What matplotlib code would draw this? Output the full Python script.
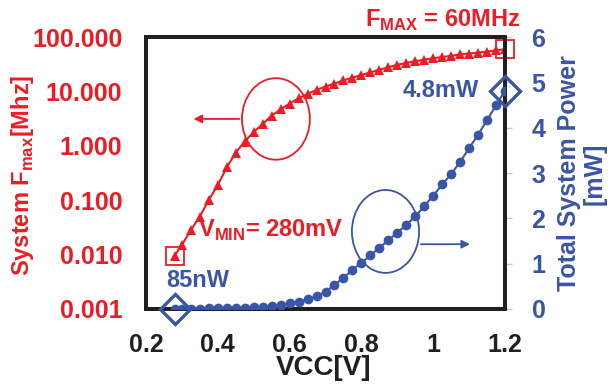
import matplotlib
matplotlib.use("Agg")
import matplotlib.pyplot as plt
from matplotlib.patches import Ellipse
from matplotlib.ticker import FixedLocator, FixedFormatter, NullLocator

RED = "#ED1C24"
BLUE = "#3A55A5"

plt.rcParams["font.family"] = ["Liberation Sans", "DejaVu Sans"]
plt.rcParams["mathtext.fontset"] = "custom"
plt.rcParams["mathtext.rm"] = "Liberation Sans"
plt.rcParams["mathtext.bf"] = "Liberation Sans:bold"

vcc = [0.28, 0.3, 0.325, 0.35, 0.375, 0.4, 0.425, 0.45, 0.475, 0.5,
       0.525, 0.55, 0.575, 0.6, 0.625, 0.65, 0.675, 0.7, 0.725, 0.75,
       0.775, 0.8, 0.825, 0.85, 0.875, 0.9, 0.925, 0.95, 0.975, 1.0,
       1.025, 1.05, 1.075, 1.1, 1.125, 1.15, 1.175, 1.2]
fmax_mhz = [0.0095, 0.015, 0.028, 0.05, 0.1, 0.19, 0.4, 0.75, 1.2, 1.8,
            2.5, 3.6, 4.7, 6.0, 7.5, 9.0, 10.7, 12.3, 14.0, 16.0,
            18.0, 20.0, 22.5, 25.0, 28.0, 31.0, 33.5, 36.0, 38.5, 41.0,
            43.0, 45.5, 48.0, 50.0, 52.0, 54.0, 57.0, 60.0]
power_mw = [0.000085, 0.003, 0.005, 0.007, 0.01, 0.013, 0.017, 0.022, 0.028, 0.036,
            0.05, 0.068, 0.09, 0.12, 0.16, 0.21, 0.28, 0.38, 0.53, 0.69,
            0.86, 1.02, 1.18, 1.35, 1.52, 1.68, 1.86, 2.04, 2.27, 2.5,
            2.75, 2.98, 3.25, 3.55, 3.85, 4.17, 4.5, 4.82]

x_ticks = [0.2, 0.4, 0.6, 0.8, 1.0, 1.2]
x_tick_labels = ["0.2", "0.4", "0.6", "0.8", "1", "1.2"]
f_ticks = [0.001, 0.01, 0.1, 1, 10, 100]
f_tick_labels = ["0.001", "0.010", "0.100", "1.000", "10.000", "100.000"]
p_ticks = [0, 1, 2, 3, 4, 5, 6]

fig = plt.figure(figsize=(6.13, 3.91), dpi=100)
ax = fig.add_axes([0.238, 0.21, 0.586, 0.695])
ax2 = ax.twinx()

ax.plot(vcc, fmax_mhz, color=RED, linewidth=1.5, marker="^", markersize=7,
        markeredgewidth=0, zorder=3)
ax.set_yscale("log")
ax.set_ylim(0.001, 100)
ax.set_xlim(0.2, 1.2)
ax.yaxis.set_major_locator(FixedLocator(f_ticks))
ax.yaxis.set_major_formatter(FixedFormatter(f_tick_labels))
ax.yaxis.set_minor_locator(NullLocator())
ax.set_xticks(x_ticks)
ax.set_xticklabels(x_tick_labels)
ax.tick_params(axis="y", colors=RED, labelsize=18, length=0, pad=17)
ax.tick_params(axis="x", colors="#231F20", labelsize=18, length=0, pad=17)
for lbl in ax.get_yticklabels() + ax.get_xticklabels():
    lbl.set_fontweight("bold")
ax.set_xlabel("VCC[V]", fontsize=20, fontweight="bold", color="#231F20")
ax.xaxis.set_label_coords(0.494, -0.17)
ax.set_ylabel(r"System F$_{\mathbf{max}}$[Mhz]", fontsize=17, fontweight="bold", color=RED)
ax.yaxis.set_label_coords(-0.305, 0.49)

ax2.plot(vcc, power_mw, color=BLUE, linewidth=1.5, marker="o", markersize=7,
         markeredgewidth=0, zorder=3)
ax2.set_ylim(0, 6)
ax2.set_yticks(p_ticks)
ax2.tick_params(axis="y", colors=BLUE, labelsize=18, length=5, width=1, pad=14)
ax2.tick_params(axis="y", which="both", color="#C8C8C8")
for lbl in ax2.get_yticklabels():
    lbl.set_fontweight("bold")
ax2.set_ylabel("Total System Power\n[mW]", fontsize=18, fontweight="bold", color=BLUE,
               linespacing=1.1)
ax2.yaxis.set_label_coords(1.145, 0.498)

for a in (ax, ax2):
    for sp in a.spines.values():
        sp.set_linewidth(2.8)
        sp.set_color("#231F20")

# endpoint highlight markers
ax.plot([vcc[0], vcc[-1]], [fmax_mhz[0], fmax_mhz[-1]], linestyle="none", marker="s",
        markersize=13, markerfacecolor="none", markeredgecolor=RED, markeredgewidth=1.3,
        clip_on=False, zorder=4)
ax2.plot([vcc[0], vcc[-1]], [power_mw[0], power_mw[-1]], linestyle="none", marker="D",
         markersize=15, markerfacecolor="none", markeredgecolor=BLUE, markeredgewidth=2.4,
         clip_on=False, zorder=4)

# annotations
ax2.text(0.827, 1.063, r"F$_{\mathbf{MAX}}$ = 60MHz", transform=ax2.transAxes, color=RED,
         fontsize=17, fontweight="bold", ha="center", va="center")
ax2.text(0.145, 0.265, r"V$_{\mathbf{MIN}}$= 280mV", transform=ax2.transAxes, color=RED,
         fontsize=17, fontweight="bold", ha="left", va="baseline")
ax2.text(0.058, 0.081, "85nW", transform=ax2.transAxes, color=BLUE,
         fontsize=17, fontweight="bold", ha="left", va="baseline")
ax2.text(0.716, 0.779, "4.8mW", transform=ax2.transAxes, color=BLUE,
         fontsize=17, fontweight="bold", ha="left", va="baseline")

ax2.add_patch(Ellipse((0.362, 0.699), 0.189, 0.30, transform=ax2.transAxes,
                      fill=False, edgecolor=RED, linewidth=1.3))
ax2.annotate("", xy=(0.125, 0.699), xytext=(0.268, 0.699), xycoords="axes fraction",
             arrowprops=dict(arrowstyle="-|>", color=RED, lw=1.3, mutation_scale=12))
ax2.add_patch(Ellipse((0.667, 0.285), 0.187, 0.305, transform=ax2.transAxes,
                      fill=False, edgecolor=BLUE, linewidth=1.3))
ax2.annotate("", xy=(0.91, 0.238), xytext=(0.758, 0.238), xycoords="axes fraction",
             arrowprops=dict(arrowstyle="-|>", color=BLUE, lw=1.3, mutation_scale=12))

fig.savefig("out.png", dpi=100)
